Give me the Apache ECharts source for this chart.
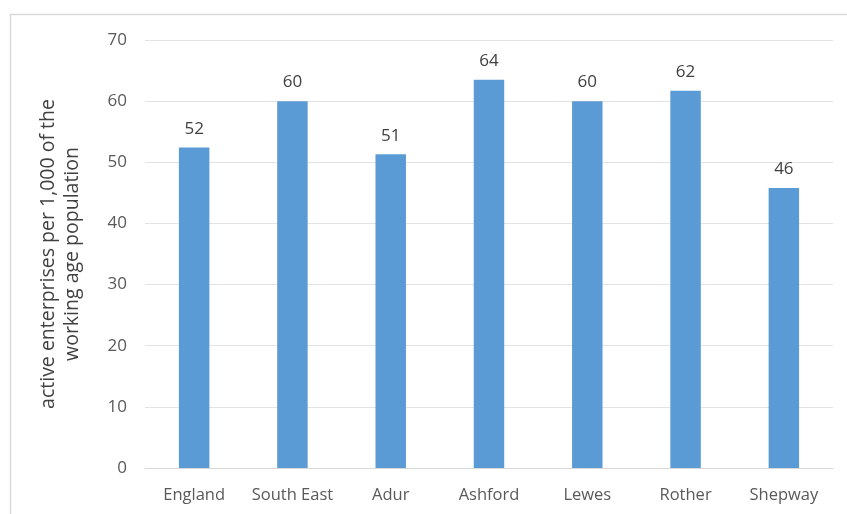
<!DOCTYPE html>
<html>
<head>
<meta charset="utf-8">
<script src="https://cdn.jsdelivr.net/npm/echarts@6/dist/echarts.min.js"></script>
<style>
  html, body { margin: 0; padding: 0; background: #fff; }
  #chart { width: 847px; height: 514px; }
</style>
</head>
<body>
<div id="chart"></div>
<script>
// 地区
const areas = ['England', 'South East', 'Adur', 'Ashford', 'Lewes', 'Rother', 'Shepway'];
// 每千名劳动年龄人口的活跃企业数
const enterprises = [52.4, 60.0, 51.3, 63.5, 60.0, 61.7, 45.8];
// y 轴刻度
const yTicks = [0, 10, 20, 30, 40, 50, 60, 70];

const chart = echarts.init(document.getElementById('chart'));
const font = '"Open Sans", "Noto Sans", sans-serif';

chart.setOption({
  animation: false,
  graphic: [{
    type: 'rect',
    shape: { x: 10.5, y: 14.5, width: 850, height: 520 },
    style: { fill: 'none', stroke: '#d9d9d9', lineWidth: 1.5 },
    silent: true
  }],
  grid: { left: 145, right: 14, top: 40, bottom: 46 },
  xAxis: {
    type: 'category',
    data: areas,
    axisTick: { show: false },
    axisLine: { lineStyle: { color: '#d9d9d9', width: 1 } },
    axisLabel: { color: '#595959', fontSize: 16.5, fontFamily: font, margin: 19, interval: 0 }
  },
  yAxis: {
    type: 'value',
    min: yTicks[0],
    max: yTicks[yTicks.length - 1],
    interval: 10,
    name: 'active enterprises per 1,000 of the\nworking age population',
    nameLocation: 'middle',
    nameGap: 61,
    nameTextStyle: { color: '#404040', fontSize: 19.5, fontFamily: font, lineHeight: 24 },
    axisLine: { show: false },
    axisTick: { show: false },
    axisLabel: { color: '#595959', fontSize: 17, fontFamily: font, margin: 18 },
    splitLine: { lineStyle: { color: '#e3e3e3', width: 1.2 } }
  },
  series: [{
    type: 'bar',
    data: enterprises,
    barWidth: '31%',
    itemStyle: { color: '#5b9bd5' },
    label: {
      show: true,
      position: 'top',
      distance: 10,
      color: '#404040',
      fontSize: 17,
      fontFamily: font,
      formatter: p => Math.round(p.value)
    }
  }]
});
</script>
</body>
</html>
